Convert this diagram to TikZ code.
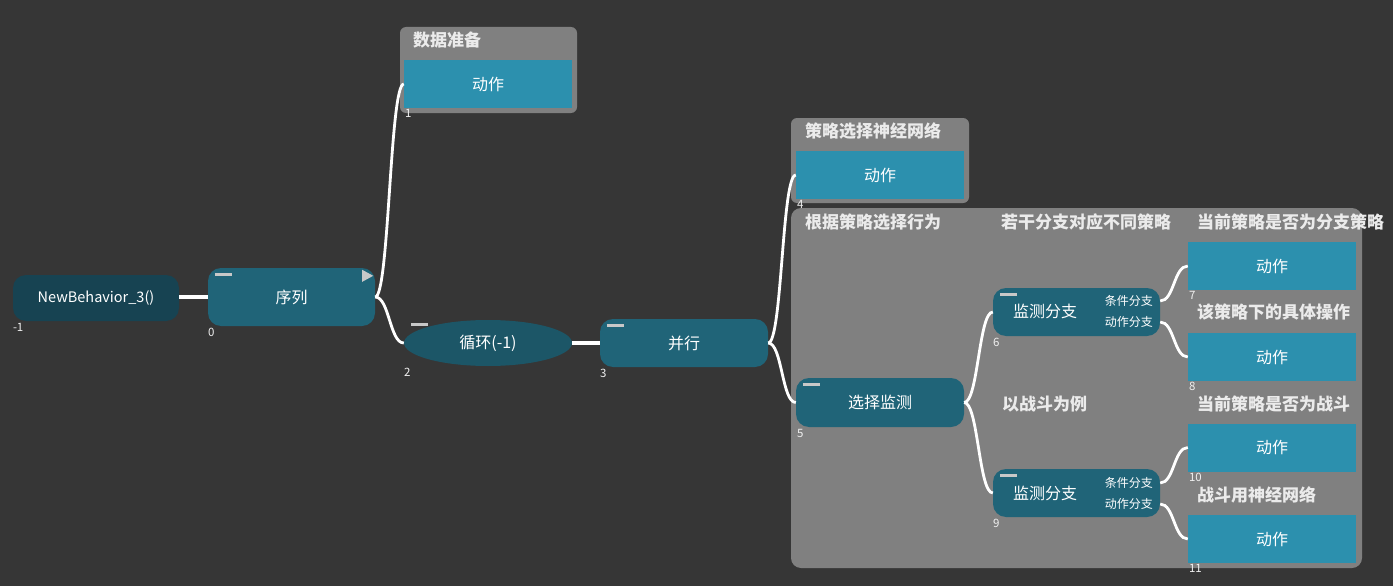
\documentclass[tikz,border=0pt]{standalone}
\usepackage{fontspec}
\setmainfont{Noto Sans CJK SC}
\usetikzlibrary{shapes.geometric}
\definecolor{bg}{RGB}{54,54,54}
\definecolor{panel}{RGB}{128,128,128}
\definecolor{act}{RGB}{44,144,174}
\definecolor{comp}{RGB}{32,100,120}
\definecolor{rootc}{RGB}{23,67,82}
\definecolor{loopc}{RGB}{28,86,103}
\definecolor{barc}{RGB}{200,200,200}
\definecolor{labc}{RGB}{235,235,235}
\begin{document}
\begin{tikzpicture}[x=1pt, y=-1pt,
  nodetext/.style={text=white, inner sep=0pt, font=\fontsize{16}{18}\selectfont},
  action/.style={nodetext, fill=act, minimum width=168pt, minimum height=48pt},
  compbox/.style={nodetext, fill=comp, rounded corners=13pt, minimum width=168pt, minimum height=48pt},
  rootbox/.style={compbox, fill=rootc, minimum width=166pt, minimum height=46pt, font=\fontsize{14.5}{17}\selectfont},
  loopnode/.style={nodetext, ellipse, fill=loopc, minimum width=168pt, minimum height=46pt},
  grouplabel/.style={anchor=west, text=labc, inner sep=0pt, font=\bfseries\fontsize{17}{19}\selectfont},
  small/.style={anchor=east, text=white, inner sep=0pt, font=\fontsize{12}{14}\selectfont},
  idx/.style={anchor=north west, text=white!88!gray, inner sep=0pt, font=\fontsize{11.5}{12}\selectfont},
  minus/.style={draw=barc, line width=3pt},
  wire/.style={draw=white, line width=2.8pt},
  fatwire/.style={draw=white, line width=4.5pt},
  swoop/.style={out=0, in=180, distance=14pt}]
\path[use as bounding box, fill=bg] (0,0) rectangle (1393,586);
\fill[panel, rounded corners=6pt] (400,27) rectangle (577,113);
\fill[panel, rounded corners=6pt] (791,118) rectangle (969,203);
\fill[panel, rounded corners=10pt] (791,208) rectangle (1362,568);
\node[grouplabel] (g1) at (413,40) {数据准备};
\node[grouplabel] (g4) at (805,131) {策略选择神经网络};
\node[grouplabel] (g5) at (805,222) {根据策略选择行为};
\node[grouplabel] (g6) at (1001,222) {若干分支对应不同策略};
\node[grouplabel] (g7) at (1197,222) {当前策略是否为分支策略};
\node[grouplabel] (g8) at (1197,312) {该策略下的具体操作};
\node[grouplabel] (g9) at (1002,404) {以战斗为例};
\node[grouplabel] (g10) at (1197,404) {当前策略是否为战斗};
\node[grouplabel] (g11) at (1197,495) {战斗用神经网络};
\node[rootbox] (r) at (96,298) {NewBehavior\_3()};
\node[compbox, minimum width=167pt, minimum height=58pt] (seq) at (291.5,297) {序列};
\node[action] (x1) at (488,84) {动作};
\node[loopnode] (loop) at (488,343) {循环(-1)};
\node[compbox] (par) at (684,343) {并行};
\node[action] (x4) at (880,175) {动作};
\node[compbox, minimum height=49pt] (sel) at (880,402.5) {选择监测};
\node[compbox, minimum width=167pt] (m6) at (1076.5,312) {};
\node[nodetext] (t6) at (1045,311) {监测分支};
\node[small] (c6) at (1153,301) {条件分支};
\node[small] (a6) at (1153,322) {动作分支};
\node[action] (x7) at (1272,266) {动作};
\node[action] (x8) at (1272,357) {动作};
\node[compbox, minimum width=167pt] (m9) at (1076.5,493) {};
\node[nodetext] (t9) at (1045,493) {监测分支};
\node[small] (c9) at (1153,483) {条件分支};
\node[small] (a9) at (1153,504) {动作分支};
\node[action] (x10) at (1272,447.5) {动作};
\node[action] (x11) at (1272,539) {动作};
\draw[minus] ([xshift=7pt,yshift=-7pt]seq.north west) -- ++(17,0);
\draw[minus] ([xshift=7pt,yshift=-5pt]loop.west |- loop.north) -- ++(17,0);
\draw[minus] ([xshift=7pt,yshift=-7pt]par.north west) -- ++(17,0);
\draw[minus] ([xshift=7pt,yshift=-7pt]sel.north west) -- ++(17,0);
\draw[minus] ([xshift=7pt,yshift=-7pt]m6.north west) -- ++(17,0);
\draw[minus] ([xshift=7pt,yshift=-7pt]m9.north west) -- ++(17,0);
\fill[barc] ([xshift=-13pt,yshift=-2pt]seq.north east) -- ++(11,6) -- ++(-11,6) -- cycle;
\node[idx] (i-1) at ([yshift=-2pt]r.south west) {-1};
\node[idx] (i0) at ([yshift=-2pt]seq.south west) {0};
\node[idx] (i1) at ([xshift=1pt,yshift=-1pt]x1.south west) {1};
\node[idx] (i2) at ([yshift=-2pt]loop.west |- loop.south) {2};
\node[idx] (i3) at ([yshift=-2pt]par.south west) {3};
\node[idx] (i4) at ([xshift=1pt,yshift=-1pt]x4.south west) {4};
\node[idx] (i5) at ([xshift=1pt,yshift=-2pt]sel.south west) {5};
\node[idx] (i6) at ([yshift=-2pt]m6.south west) {6};
\node[idx] (i7) at ([xshift=1pt,yshift=-1pt]x7.south west) {7};
\node[idx] (i8) at ([xshift=1pt,yshift=-1pt]x8.south west) {8};
\node[idx] (i9) at ([yshift=-2pt]m9.south west) {9};
\node[idx] (i10) at ([xshift=1pt,yshift=-1pt]x10.south west) {10};
\node[idx] (i11) at ([xshift=1pt,yshift=-1pt]x11.south west) {11};
\draw[fatwire] (seq.west -| r.east) -- (seq.west);
\draw[wire] (seq.east) to[swoop] (x1.west);
\draw[wire] (seq.east) to[swoop] (loop.west);
\draw[fatwire] (loop.east) -- (par.west);
\draw[wire] (par.east) to[swoop] (x4.west);
\draw[wire] (par.east) to[swoop] (sel.west);
\draw[wire] (sel.east) to[swoop] (m6.west);
\draw[wire] (sel.east) to[swoop] (m9.west);
\draw[wire] (c6.east -| m6.east) to[swoop] (x7.west);
\draw[wire] (a6.east -| m6.east) to[swoop] (x8.west);
\draw[wire] (c9.east -| m9.east) to[swoop] (x10.west);
\draw[wire] (a9.east -| m9.east) to[swoop] (x11.west);
\end{tikzpicture}
\end{document}
